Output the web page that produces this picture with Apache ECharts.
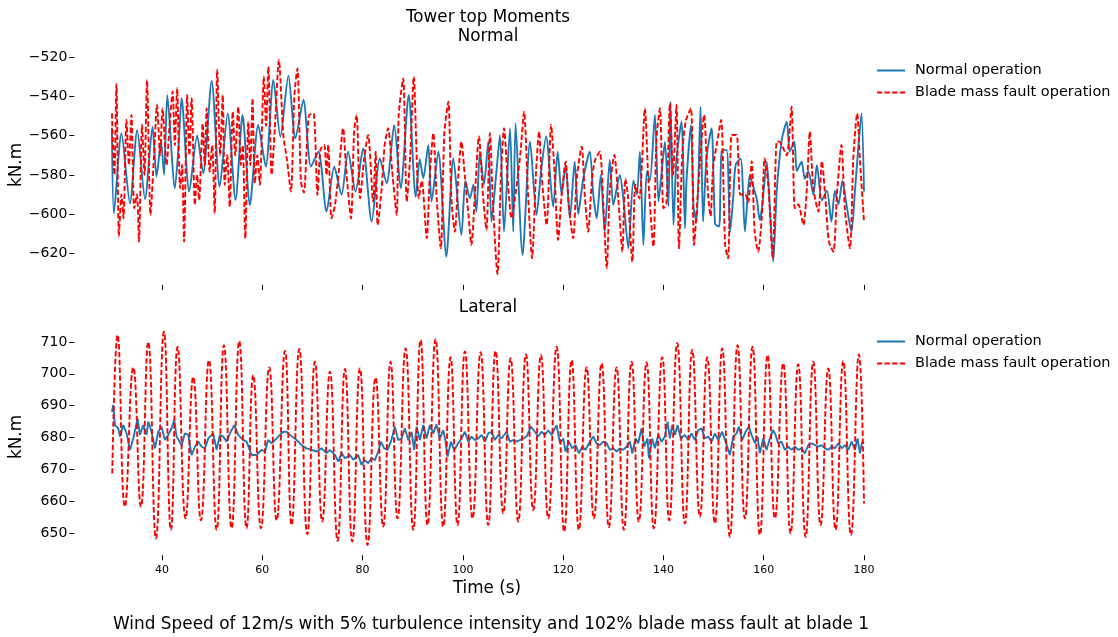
<!DOCTYPE html>
<html>
<head>
<meta charset="utf-8">
<script src="https://cdn.jsdelivr.net/npm/echarts@6/dist/echarts.min.js"></script>
<style>
  html, body { margin: 0; padding: 0; background: #fff; }
  #chart { width: 1118px; height: 637px; }
</style>
</head>
<body>
<div id="chart"></div>
<script>
// Legend entries
const legendNames = ['Normal operation', 'Blade mass fault operation'];

// Tick positions
const timeTicks = [40, 60, 80, 100, 120, 140, 160, 180];
const normalTicks = [-620, -600, -580, -560, -540, -520];
const lateralTicks = [650, 660, 670, 680, 690, 700, 710];

// Tower top moment, "Normal" direction, normal operation: [time (s), kN.m]
const normalDirNormalOp = [
  [30.0,-556],[30.4,-599.6],[31.9,-558.8],[33.6,-594.5],[35.05,-557.1],[36.6,-592.3],[38.1,-555.5],
  [38.9,-580.9],[39.8,-563.1],[40.4,-580.0],[41.05,-539.3],[42.56,-586.8],[43.3,-565],[43.9,-541.0],
  [45.42,-588.5],[47.0,-560.0],[48.2,-579.2],[49.9,-532.2],[51.5,-586.0],[53.1,-548.7],[54.66,-592.8],
  [56.06,-549.5],[57.52,-595.3],[59.18,-554.6],[60.7,-575.8],[62.2,-531.7],[63.6,-560.5],[65.2,-529.5],
  [66.6,-561.4],[68.2,-541.9],[69.7,-575.8],[71.2,-568.2],[72.8,-598.7],[74.35,-575.8],[75.8,-590.2],
  [77.1,-568.2],[78.6,-588.5],[80.1,-566.5],[81.8,-603.8],[83.45,-571.6],[84.8,-584.3],[86.3,-554.6],
  [87.6,-586.8],[89.2,-539.3],[90.6,-591.1],[91.4,-572],[92.1,-581.7],[93.1,-564.8],[93.75,-593.6],
  [95.1,-568.2],[96.7,-621.6],[98.1,-571.6],[99.7,-610.6],[100.5,-583],[101.4,-591.9],[102.1,-585],
  [102.7,-598.7],[103.4,-568.2],[104.2,-585],[105.06,-563.1],[105.7,-603.8],[106.7,-578],[107.4,-559.7],
  [108.2,-608.9],[109.4,-556.3],[110.04,-608.9],[110.5,-553.8],[111.9,-620.8],[113.4,-563.1],[114.7,-600.4],
  [115.6,-578],[116.6,-560.5],[118.0,-596.2],[118.9,-568.2],[119.7,-590],[120.5,-575],[121.35,-602.1],
  [122.3,-573.3],[123.0,-600],[124.0,-582],[125.3,-568.2],[126.0,-590],[126.7,-602.1],[127.5,-580],
  [128.3,-608.9],[129.3,-572.4],[130.0,-595.3],[131.3,-580.0],[132.0,-592],[133.0,-617.4],[134.0,-583],
  [134.7,-590],[135.3,-568.2],[136.0,-615.7],[136.7,-578],[137.3,-583],[138.3,-549.5],[139.0,-593.6],
  [139.6,-580],[140.3,-563.1],[141.0,-596],[141.4,-542.7],[142.0,-605.5],[142.6,-572],[143.6,-552.9],
  [144.3,-607.2],[144.6,-583],[145.5,-554.6],[146.0,-596],[146.6,-603.8],[147.4,-545.3],[147.9,-603.8],
  [148.6,-571],[149.6,-556.3],[150.3,-605],[151.1,-606.3],[151.6,-568],[152.6,-567.3],[153.3,-609],
  [153.9,-592],[154.4,-575],[155.4,-571.6],[156.25,-608.9],[157.2,-580],[157.6,-583.4],[158.6,-592],
  [159.2,-602.9],[159.7,-596],[160.6,-573.3],[161.2,-595],[161.9,-624.2],[162.6,-588],[163.6,-562.2],
  [164.6,-552.9],[165.2,-568],[166.1,-563.1],[166.6,-578],[167.55,-573.3],[168.2,-582],[168.9,-578],
  [169.9,-590],[170.6,-575],[171.6,-593],[172.6,-588],[173.5,-603.8],[174.2,-588],[174.9,-595],
  [175.7,-583],[176.5,-595],[177.5,-608.9],[178.2,-588],[178.9,-565],[179.5,-548.7],[180.0,-588.5]
];

// Tower top moment, "Normal" direction, blade mass fault operation
const normalDirFault = [
  [30.0,-548.7],[30.5,-580],[30.9,-533.9],[31.4,-611.4],[31.9,-590],[32.3,-602.1],[32.9,-552.1],
  [33.4,-575],[33.9,-549.5],[34.45,-597.0],[35.0,-590],[35.4,-614.0],[36.0,-554.6],[36.5,-580],
  [37.0,-531.7],[37.7,-600.4],[38.4,-570],[39.0,-544.4],[39.6,-570],[40.1,-546.1],[40.9,-575],
  [41.5,-555],[42.1,-537.6],[42.55,-565],[43.0,-535.9],[43.6,-586.8],[44.0,-575],[44.4,-614],
  [45.0,-539.3],[45.45,-570],[45.9,-541],[46.55,-595.3],[47.0,-580],[47.4,-592.8],[48.1,-553.8],
  [48.5,-575],[48.9,-546.1],[49.5,-578.4],[50.0,-565],[50.5,-599.6],[51.0,-526.6],[51.6,-570],
  [52.1,-539.3],[52.5,-585.1],[53.0,-570],[53.5,-596.2],[54.1,-547.8],[54.6,-570],[55.2,-545.3],
  [55.7,-575],[56.1,-565],[56.6,-612.3],[57.2,-552.9],[57.6,-575],[58.05,-541],[58.5,-584.3],
  [59.0,-570],[59.5,-585.1],[60.3,-530],[60.75,-555],[61.2,-524.9],[61.85,-580.0],[62.5,-556],
  [63.3,-521.5],[64.2,-560],[64.9,-572],[65.7,-588.5],[66.4,-539.3],[67.0,-525.8],[67.7,-583.4],
  [68.3,-589],[68.8,-569],[69.3,-549.8],[70.2,-548.7],[71.0,-590.2],[71.6,-567],[72.35,-564.8],
  [72.8,-580],[73.15,-564.8],[73.8,-602.1],[74.5,-595.3],[75.3,-577],[76.1,-556.3],[76.8,-580],
  [77.7,-602.1],[78.3,-558.0],[78.8,-549.5],[79.5,-591.9],[80.3,-572],[81.1,-559.7],[82.1,-593.6],
  [82.6,-568.2],[83.0,-605.5],[83.8,-587],[84.4,-564.8],[85.1,-556.3],[85.9,-578],[86.8,-600.4],
  [87.2,-549.5],[88.1,-530.9],[88.8,-593.6],[89.5,-570],[90.2,-530.0],[91.2,-591.9],[91.8,-583],
  [92.8,-612.3],[93.4,-580],[94.1,-558.8],[94.8,-593],[95.6,-617.4],[96.3,-558.8],[97.1,-542.7],
  [97.7,-592],[98.4,-608.9],[99.1,-580],[99.7,-563.1],[100.4,-581],[101.1,-600],[101.7,-615.7],
  [102.4,-590],[103.2,-560.5],[104.0,-590],[104.7,-608.0],[105.4,-558.8],[106.0,-595],[106.9,-630.5],
  [107.6,-580],[108.2,-556.3],[109.0,-585],[109.7,-602.1],[110.6,-588],[111.5,-568.2],[112.2,-547.8],
  [113.0,-590],[113.8,-622.5],[114.6,-578],[115.2,-558.0],[115.7,-580],[116.7,-605.5],[117.6,-554.6],
  [118.2,-575],[119.0,-613.1],[119.7,-590],[120.5,-573.3],[121.1,-595],[122.0,-612.3],[122.7,-582],
  [123.7,-565.6],[124.3,-590],[125.0,-608.9],[125.7,-584],[126.3,-573],[127.3,-568.2],[128.0,-595],
  [128.7,-627.6],[129.3,-588],[130.2,-569.9],[131.0,-592],[131.8,-619.1],[132.4,-582],[132.9,-590],
  [133.8,-624.2],[134.4,-585],[135.2,-592],[136.3,-546.1],[137.0,-583],[138.0,-616.5],[138.6,-562],
  [139.3,-546.1],[140.0,-597],[140.6,-595],[141.3,-543.6],[141.9,-580],[142.6,-544.4],[143.1,-617.4],
  [143.8,-567],[144.5,-552.1],[145.5,-546.1],[146.1,-615.7],[147.0,-584],[148.1,-549.5],[148.9,-590],
  [149.4,-601],[149.9,-576],[150.6,-565],[151.5,-552.1],[152.3,-615.7],[152.9,-622.5],[153.6,-559.7],
  [154.6,-559.7],[155.3,-590],[156.3,-590],[156.9,-594],[157.6,-573],[158.2,-608.9],[158.9,-619.1],
  [159.6,-602],[160.2,-571.6],[160.9,-585],[161.8,-622.5],[162.6,-563.1],[163.1,-563.1],[163.6,-565],
  [164.6,-570],[165.55,-545.3],[166.2,-597.0],[166.9,-595],[167.9,-605.5],[168.6,-587],[169.2,-558.0],
  [169.9,-587],[170.9,-598.7],[171.6,-573],[172.3,-592],[173.0,-614.0],[173.9,-619.1],[174.6,-590],
  [175.5,-564.8],[176.2,-598],[177.2,-617.4],[177.9,-570],[178.65,-548.7],[179.2,-573],[180.0,-603.8]
];

// Tower top moment, lateral direction, normal operation
const lateralNormalOp = [
  [30.0,688.1],[30.27,690.2],[30.6,683.9],[31.26,682.9],[31.6,680.3],[32.26,683.9],[32.93,681.3],
  [33.59,676.1],[34.26,679.7],[35.12,686.0],[35.59,680.8],[36.25,683.9],[36.91,680.8],[37.25,685.0],
  [37.91,681.8],[38.58,676.6],[39.24,681.8],[39.91,683.4],[40.57,679.2],[41.24,680.8],[41.9,682.9],
  [42.43,685.5],[42.9,680.3],[43.9,677.6],[44.56,681.3],[45.23,680.8],[45.89,674.5],[46.56,677.1],
  [47.22,678.7],[47.89,677.1],[48.55,676.6],[49.22,679.7],[50.21,681.3],[50.88,676.1],[51.54,680.8],
  [52.21,680.3],[52.87,678.7],[53.54,681.3],[54.4,683.9],[55.2,680.8],[56.2,679.2],[56.86,678.7],
  [57.86,674.5],[58.86,674.5],[59.85,676.1],[60.52,675.6],[61.18,679.2],[61.85,678.2],[62.85,679.7],
  [63.51,680.8],[64.18,681.8],[64.84,681.8],[65.51,680.8],[66.5,679.7],[67.17,678.7],[67.83,677.6],
  [68.83,676.6],[69.83,676.1],[70.82,675.6],[71.82,676.6],[72.82,675.1],[73.48,676.1],[74.48,674.5],
  [75.15,672.4],[75.81,675.1],[76.48,673.5],[77.47,674.5],[78.14,673.0],[79.12,674.5],[79.79,671.4],
  [80.45,672.9],[81.12,671.9],[81.78,673.5],[82.45,672.9],[83.11,675.6],[83.65,678.7],[84.31,676.6],
  [84.98,676.1],[85.64,678.7],[86.44,683.4],[87.1,679.2],[87.77,679.7],[88.43,682.9],[89.1,679.2],
  [89.76,681.8],[90.29,676.1],[90.76,683.4],[91.43,679.2],[92.09,683.9],[92.76,679.7],[93.42,683.9],
  [94.08,681.3],[94.75,684.1],[95.41,679.7],[96.08,682.3],[96.54,678.7],[96.94,674.0],[97.61,678.7],
  [98.27,676.1],[99.07,678.2],[99.74,679.7],[100.4,681.8],[101.07,678.7],[101.73,680.3],[102.4,679.2],
  [103.06,679.7],[103.73,680.8],[104.39,678.7],[105.06,681.3],[105.72,681.8],[106.39,679.2],[107.05,680.8],
  [107.72,679.7],[108.71,681.8],[109.38,678.7],[110.04,679.2],[110.71,678.7],[111.37,679.2],[112.04,679.7],
  [112.7,680.3],[113.57,683.4],[114.36,681.8],[115.03,680.3],[115.69,681.8],[116.36,680.8],[117.02,682.3],
  [117.69,680.8],[118.69,683.9],[119.35,678.2],[120.02,679.7],[120.48,675.6],[121.15,678.7],[121.81,676.6],
  [122.48,677.6],[123.14,675.0],[123.81,677.1],[124.47,676.1],[125.14,678.2],[126.0,680.3],[126.66,678.2],
  [127.33,677.6],[127.99,678.7],[128.66,678.2],[129.32,676.1],[129.98,676.6],[130.65,675.6],[131.31,676.6],
  [131.98,676.1],[132.64,677.1],[133.31,678.7],[133.77,675.0],[134.44,679.7],[134.97,678.2],[135.63,682.9],
  [136.17,677.1],[136.83,679.7],[137.1,673.5],[137.76,679.7],[138.29,676.6],[138.96,680.8],[139.62,678.7],
  [140.29,680.3],[140.82,685.0],[141.29,679.7],[141.75,683.9],[142.28,680.8],[142.81,683.9],[143.48,679.7],
  [144.28,680.8],[144.94,679.2],[145.61,681.3],[146.27,679.2],[146.94,682.3],[147.6,682.9],[148.27,679.7],
  [148.93,680.3],[149.6,678.7],[150.26,681.3],[150.93,679.2],[151.72,681.8],[152.39,678.7],[153.25,674.5],
  [153.92,680.3],[154.58,681.3],[155.05,683.4],[155.71,679.2],[156.38,681.8],[157.04,683.4],[157.58,680.8],
  [158.24,678.2],[158.77,680.3],[159.24,675.0],[159.9,679.7],[160.57,676.1],[161.23,679.7],[161.9,682.3],
  [162.36,680.8],[162.89,678.2],[163.56,678.7],[164.22,676.1],[164.89,677.1],[165.55,676.1],[166.22,677.1],
  [166.88,676.1],[167.55,676.6],[168.21,675.0],[168.88,677.6],[169.54,678.2],[170.21,677.6],[170.87,677.1],
  [171.54,677.6],[172.2,676.6],[172.87,676.1],[173.53,677.1],[174.2,676.6],[174.87,678.2],[175.53,676.6],
  [176.2,677.6],[176.86,676.1],[177.53,678.7],[178.19,676.1],[178.72,679.7],[179.19,675.0],[179.65,678.7],
  [180.0,678.2]
];

// Tower top moment, lateral direction, blade mass fault operation (turning points)
const lateralFault = [
  [30.07,668.7],[31.13,712.2],[32.59,658.3],[34.26,702],[35.78,658.3],[37.25,710],[38.78,648.3],
  [40.37,713.2],[41.77,651],[43.1,708.5],[44.69,654.6],[46.22,699],[47.75,654],[49.35,704.3],
  [50.88,651],[52.34,709],[53.87,651.5],[55.4,710.3],[56.86,651.5],[58.19,699.6],[59.72,651.5],
  [61.38,702],[62.85,654],[64.51,707.2],[65.84,652.5],[67.37,707.8],[68.96,649.6],[70.49,703.8],
  [71.95,653.6],[73.48,700.7],[75.01,647.5],[76.48,701.5],[77.94,647.3],[79.46,701.7],[80.99,646.2],
  [82.58,698.8],[84.11,652],[85.57,703.8],[86.97,654.6],[88.57,708],[90.1,651],[91.56,710.6],
  [92.95,652.5],[94.55,710.9],[96.08,652],[97.54,705.2],[98.94,652.5],[100.4,707],[101.93,654.6],
  [103.53,706.8],[105.06,652.5],[106.52,707.2],[108.05,656.2],[109.51,704.9],[111.04,653.6],[112.57,706.1],
  [114.03,657.2],[115.56,705.9],[117.02,654.6],[118.69,708.5],[120.21,650.4],[121.68,704.3],[123.14,651],
  [124.67,702],[126.13,654.6],[127.66,703.3],[129.12,651.8],[130.65,702],[132.11,651],[133.64,703.8],
  [135.1,653.6],[136.63,703.6],[138.09,651.5],[139.76,705.2],[141.15,654],[142.75,709.6],[144.28,653],
  [145.74,707.5],[147.27,655.1],[148.73,705.2],[150.26,653],[151.72,708],[153.25,648.8],[154.78,709],
  [156.25,654.6],[157.77,708.5],[159.24,649.4],[160.77,705.9],[162.23,654.6],[163.89,703.3],[165.35,649.9],
  [166.88,703],[168.35,648.8],[169.88,703.8],[171.34,652.5],[172.87,701.7],[174.33,651],[175.86,704],
  [177.39,649.4],[178.98,706.1],[180.0,659.3]
];

const FONT = 'DejaVu Sans';
const BLUE = '#1f77b4';
const RED = '#ff0000';
const DASH = [5.4, 2.4];
const minusSign = v => String(v).replace('-', '\u2212');

// legend handles: a solid stroke and a dashed stroke drawn as thin bars
const solidIcon = 'path://M0,0H28V2H0Z';
const dashedIcon = 'path://M0,0H5.2V2H0Z M7.6,0H12.8V2H7.6Z M15.2,0H20.4V2H15.2Z M22.8,0H28V2H22.8Z';

const chart = echarts.init(document.getElementById('chart'), null, { renderer: 'canvas' });

function xAxisFor(gridIndex, showLabels) {
  return {
    type: 'value', gridIndex, min: 22.5, max: 187.5,
    axisLine: { show: false },
    splitLine: { show: false },
    axisTick: { show: true, inside: false, length: 5, customValues: timeTicks,
      lineStyle: { color: '#000', width: 1 } },
    axisLabel: { show: showLabels, customValues: timeTicks, margin: 9,
      fontFamily: FONT, fontSize: 11, color: '#000' }
  };
}

function yAxisFor(gridIndex, min, max, ticks) {
  return {
    type: 'value', gridIndex, min, max,
    axisLine: { show: false },
    splitLine: { show: false },
    axisTick: { show: true, inside: false, length: 5, customValues: ticks,
      lineStyle: { color: '#000', width: 1 } },
    axisLabel: { customValues: ticks, margin: 7, fontFamily: FONT, fontSize: 14,
      color: '#000', formatter: minusSign }
  };
}

function lineSeries(name, data, axis, color, dashed, smooth) {
  return {
    name, type: 'line', data, xAxisIndex: axis, yAxisIndex: axis,
    showSymbol: false, symbol: 'none', smooth, animation: false,
    lineStyle: { color, width: 1.9, type: dashed ? DASH : 'solid' },
    itemStyle: { color }
  };
}

function legendFor(top) {
  return {
    orient: 'vertical', left: 872, top, itemWidth: 28, itemHeight: 2, itemGap: 7,
    data: [
      { name: legendNames[0], icon: solidIcon, itemStyle: { color: BLUE } },
      { name: legendNames[1], icon: dashedIcon, itemStyle: { color: RED } }
    ],
    selectedMode: false,
    textStyle: { fontFamily: FONT, fontSize: 14.5, color: '#000', padding: [0, 0, 0, 5] }
  };
}

function text(str, x, y, size, rotate) {
  return {
    type: 'text', x, y, rotation: rotate ? Math.PI / 2 : 0,
    style: { text: str, fontFamily: FONT, fontSize: size, fill: '#000',
      textAlign: 'center', textVerticalAlign: 'middle' }
  };
}

chart.setOption({
  animation: false,
  backgroundColor: '#fff',
  grid: [
    { left: 74.3, width: 827.3, top: 45.2, height: 239.7, containLabel: false, outerBoundsMode: 'none' },
    { left: 74.3, width: 827.3, top: 319.7, height: 235.6, containLabel: false, outerBoundsMode: 'none' }
  ],
  xAxis: [xAxisFor(0, false), xAxisFor(1, true)],
  yAxis: [
    yAxisFor(0, -636, -514, normalTicks),
    yAxisFor(1, 643, 717, lateralTicks)
  ],
  legend: [legendFor(58), legendFor(329)],
  series: [
    lineSeries(legendNames[0], normalDirNormalOp, 0, BLUE, false, 0.25),
    lineSeries(legendNames[1], normalDirFault, 0, RED, true, 0.25),
    lineSeries(legendNames[0], lateralNormalOp, 1, BLUE, false, false),
    lineSeries(legendNames[1], lateralFault, 1, RED, true, 0.5)
  ],
  graphic: [
    text('Tower top Moments', 488, 18, 16.8),
    text('Normal', 488, 37, 16.8),
    text('Lateral', 488, 308, 16.8),
    text('kN.m', 17, 165, 16.8, true),
    text('kN.m', 17, 437, 16.8, true),
    text('Time (s)', 487, 589, 16.8),
    text('Wind Speed of 12m/s with 5% turbulence intensity and 102% blade mass fault at blade 1', 491, 625, 16.9)
  ]
});
</script>
</body>
</html>
